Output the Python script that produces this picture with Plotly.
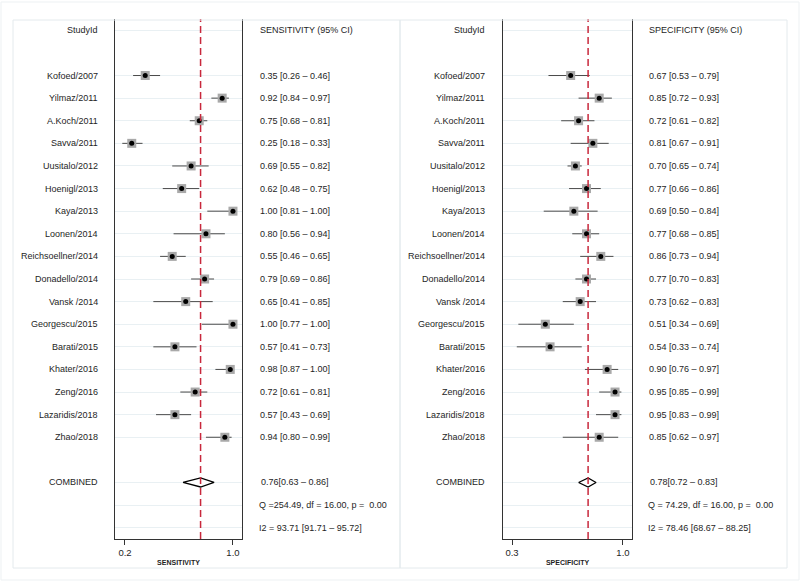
import plotly.graph_objects as go

studies = ["Kofoed/2007", "Yilmaz/2011", "A.Koch/2011", "Savva/2011", "Uusitalo/2012",
           "Hoenigl/2013", "Kaya/2013", "Loonen/2014", "Reichsoellner/2014", "Donadello/2014",
           "Vansk /2014", "Georgescu/2015", "Barati/2015", "Khater/2016", "Zeng/2016",
           "Lazaridis/2018", "Zhao/2018"]

sens = [0.35, 0.92, 0.75, 0.25, 0.69, 0.62, 1.00, 0.80, 0.55, 0.79, 0.65, 1.00, 0.57, 0.98, 0.72, 0.57, 0.94]
sens_lo = [0.26, 0.84, 0.68, 0.18, 0.55, 0.48, 0.81, 0.56, 0.46, 0.69, 0.41, 0.77, 0.41, 0.87, 0.61, 0.43, 0.80]
sens_hi = [0.46, 0.97, 0.81, 0.33, 0.82, 0.75, 1.00, 0.94, 0.65, 0.86, 0.85, 1.00, 0.73, 1.00, 0.81, 0.69, 0.99]

spec = [0.67, 0.85, 0.72, 0.81, 0.70, 0.77, 0.69, 0.77, 0.86, 0.77, 0.73, 0.51, 0.54, 0.90, 0.95, 0.95, 0.85]
spec_lo = [0.53, 0.72, 0.61, 0.67, 0.65, 0.66, 0.50, 0.68, 0.73, 0.70, 0.62, 0.34, 0.33, 0.76, 0.85, 0.83, 0.62]
spec_hi = [0.79, 0.93, 0.82, 0.91, 0.74, 0.86, 0.84, 0.85, 0.94, 0.83, 0.83, 0.69, 0.74, 0.97, 0.99, 0.99, 0.97]

sens_comb = [0.76, 0.63, 0.86]
spec_comb = [0.78, 0.72, 0.83]
sens_stats = ["Q =254.49, df = 16.00, p =  0.00", "I2 = 93.71 [91.71 \u2013 95.72]"]
spec_stats = ["Q = 74.29, df = 16.00, p =  0.00", "I2 = 78.46 [68.67 \u2013 88.25]"]

W, H = 800, 582
FONT = "Liberation Sans, Arial, Helvetica, sans-serif"
TXT = "#1e1e1e"

def px(x):
    return x / W

def py(y):
    return 1 - y / H

study_rows = list(range(2, 2 + len(studies)))
comb_row = study_rows[-1] + 2
stat_rows = [comb_row + 1, comb_row + 2]

panels = [
    dict(xa="x", ya="y", est=sens, lo=sens_lo, hi=sens_hi, comb=sens_comb, stats=sens_stats,
         head="SENSITIVITY (95% CI)", title="SENSITIVITY", dom=(115, 242), rng=[0.126, 1.067],
         ticks=[0.2, 1.0], lab_x=100, val_x=258, box=(13, 400)),
    dict(xa="x2", ya="y2", est=spec, lo=spec_lo, hi=spec_hi, comb=spec_comb, stats=spec_stats,
         head="SPECIFICITY (95% CI)", title="SPECIFICITY", dom=(503, 632), rng=[0.243, 1.057],
         ticks=[0.3, 1.0], lab_x=487, val_x=647, box=(400, 787)),
]

fig = go.Figure()
shapes = []
annotations = []

for p in panels:
    # CI bars + grey squares
    fig.add_trace(go.Scatter(
        x=p["est"], y=study_rows, xaxis=p["xa"], yaxis=p["ya"], mode="markers",
        marker=dict(symbol="square", size=9, color="#a9a9a9", line=dict(width=0)),
        error_x=dict(type="data", symmetric=False,
                     array=[h - e for h, e in zip(p["hi"], p["est"])],
                     arrayminus=[e - l for e, l in zip(p["est"], p["lo"])],
                     color="#4a4a4a", thickness=1, width=0),
        hoverinfo="skip", showlegend=False))
    fig.add_trace(go.Scatter(
        x=p["est"], y=study_rows, xaxis=p["xa"], yaxis=p["ya"], mode="markers",
        marker=dict(symbol="circle", size=5, color="black"),
        hoverinfo="skip", showlegend=False))
    # diamond for pooled estimate
    e, l, h = p["comb"]
    fig.add_trace(go.Scatter(
        x=[l, e, h, e, l], y=[comb_row, comb_row - 0.2, comb_row, comb_row + 0.2, comb_row],
        xaxis=p["xa"], yaxis=p["ya"], mode="lines", fill="toself", fillcolor="white",
        line=dict(color="black", width=1.3), hoverinfo="skip", showlegend=False))
    # red reference line at pooled estimate
    shapes.append(dict(type="line", xref=p["xa"], yref=p["ya"] + " domain", x0=e, x1=e, y0=0, y1=1,
                       line=dict(color="#c8283c", width=1.5, dash="7px,4px"), layer="above"))
    # panel frame
    shapes.append(dict(type="rect", xref="paper", yref="paper", x0=px(p["box"][0]), x1=px(p["box"][1]),
                       y0=py(568), y1=py(20), line=dict(color="#e4eaed", width=1)))

    # text columns
    annotations.append(dict(x=px(p["lab_x"]), y=0, xref="paper", yref=p["ya"], text="StudyId",
                            xanchor="right", showarrow=False))
    annotations.append(dict(x=px(p["val_x"]), y=0, xref="paper", yref=p["ya"], text=p["head"],
                            xanchor="left", showarrow=False))
    for r, name, ev, lv, hv in zip(study_rows, studies, p["est"], p["lo"], p["hi"]):
        annotations.append(dict(x=px(p["lab_x"]), y=r, xref="paper", yref=p["ya"], text=name,
                                xanchor="right", showarrow=False))
        annotations.append(dict(x=px(p["val_x"]), y=r, xref="paper", yref=p["ya"],
                                text=f"{ev:.2f} [{lv:.2f} \u2013 {hv:.2f}]",
                                xanchor="left", showarrow=False))
    annotations.append(dict(x=px(p["lab_x"]), y=comb_row, xref="paper", yref=p["ya"], text="COMBINED",
                            xanchor="right", showarrow=False))
    annotations.append(dict(x=px(p["val_x"] + 1), y=comb_row, xref="paper", yref=p["ya"],
                            text=f"{e:.2f}[{l:.2f} \u2013 {h:.2f}]", xanchor="left", showarrow=False))
    for r, s in zip(stat_rows, p["stats"]):
        annotations.append(dict(x=px(p["val_x"] - 1), y=r, xref="paper", yref=p["ya"], text=s,
                                xanchor="left", showarrow=False))

# outer frame
shapes.append(dict(type="rect", xref="paper", yref="paper", x0=px(1), x1=px(799), y0=py(580), y1=py(2),
                   line=dict(color="#edf1f3", width=1)))

grid_rows = [0] + study_rows + [comb_row] + stat_rows

def xaxis(p):
    return dict(domain=[px(p["dom"][0]), px(p["dom"][1])], range=p["rng"], anchor=p["ya"],
                showgrid=False, zeroline=False, showline=True, linecolor="#333", linewidth=1,
                tickmode="array", tickvals=p["ticks"], ticktext=[f"{t:.1f}" for t in p["ticks"]],
                ticks="outside", ticklen=5, tickcolor="#333", tickfont=dict(size=9.5, color=TXT),
                title=dict(text="<b>" + p["title"] + "</b>", font=dict(size=7, color=TXT), standoff=2))

def yaxis(p):
    return dict(domain=[py(539), py(19)], range=[22.5, -0.5], anchor=p["xa"],
                showline=True, mirror=True, linecolor="#333", linewidth=1,
                showgrid=True, gridcolor="#e9f0f3", gridwidth=1, zeroline=False,
                tickmode="array", tickvals=grid_rows, showticklabels=False, ticks="")

fig.update_layout(
    width=W, height=H, margin=dict(l=0, r=0, t=0, b=0),
    paper_bgcolor="white", plot_bgcolor="white",
    font=dict(family=FONT, size=9, color=TXT),
    xaxis=xaxis(panels[0]), yaxis=yaxis(panels[0]),
    xaxis2=xaxis(panels[1]), yaxis2=yaxis(panels[1]),
    shapes=shapes, annotations=annotations, showlegend=False,
)

# drop the default page margin so the figure sits at the window origin
fig.write_html("out.html", config={"displayModeBar": False},
               post_script="document.body.style.margin='0';")
